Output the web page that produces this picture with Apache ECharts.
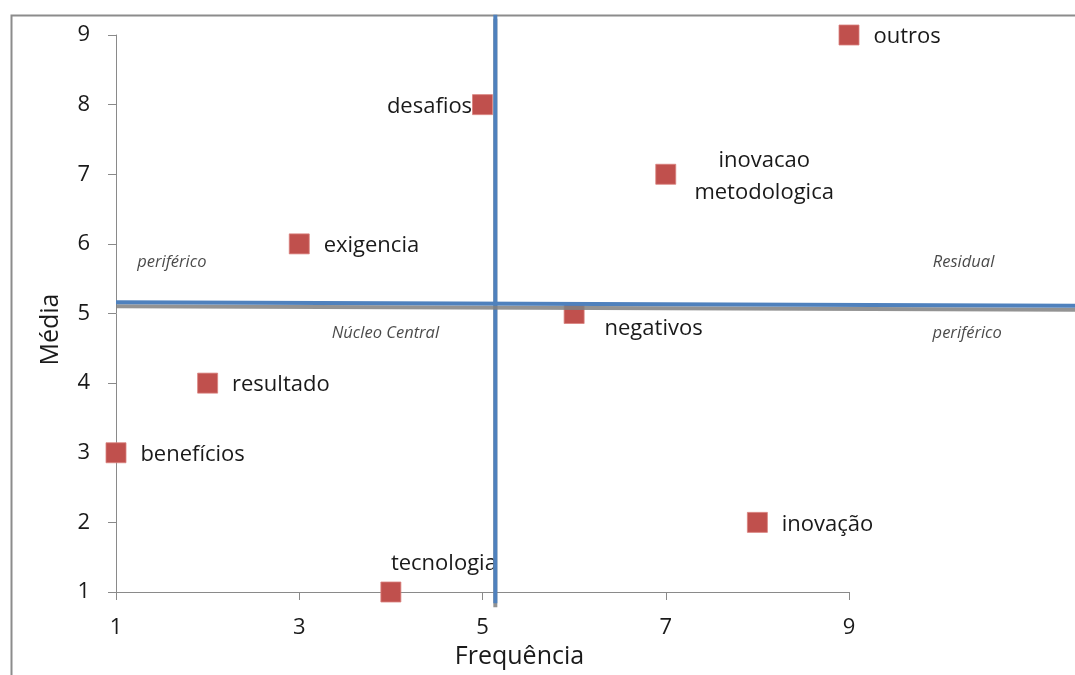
<!DOCTYPE html>
<html>
<head>
<meta charset="utf-8">
<script src="https://cdn.jsdelivr.net/npm/echarts@6/dist/echarts.min.js"></script>
<style>
html,body{margin:0;padding:0;background:#fff;}
#chart{width:1075px;height:675px;}
</style>
</head>
<body>
<div id="chart"></div>
<script>
// ---- data ----
const termNames = ['desafios','outros','inovacao\nmetodologica','exigencia','negativos','resultado','benefícios','inovação','tecnologia'];
const frequencia = [5, 9, 7, 3, 6, 2, 1, 8, 4];
const media      = [8, 9, 7, 6, 5, 4, 3, 2, 1];
const xTicks = [1, 3, 5, 7, 9];
const yTicks = [1, 2, 3, 4, 5, 6, 7, 8, 9];
// quadrant divider lines (data coordinates)
const vDivider = [[5.14, 0.84], [5.14, 9.29]];
const hDivider = [[1, 5.16], [11.466, 5.11]];
// quadrant notes
const noteTexts = ['periférico', 'Núcleo Central', 'Residual', 'periférico'];
const noteX = [1.61, 3.94, 10.25, 10.29];
const noteY = [5.74, 4.72, 5.74, 4.72];

// ---- label placement (style, not data) ----
const labelPlace = {
  'desafios': {position: 'left', distance: 0, offset: [0, 2]},
  'tecnologia': {position: 'top', offset: [53, 4], distance: 6},
  'inovacao\nmetodologica': {position: 'right', distance: 88, align: 'center', offset: [0, 2]},
  'negativos': {position: 'right', distance: 20, offset: [0, 15]}
};

const chart = echarts.init(document.getElementById('chart'));
const FONT = 'Open Sans';
const TXT = '#1a1a1a';

const pointData = termNames.map((n, i) => {
  const item = {name: n, value: [frequencia[i], media[i]]};
  if (labelPlace[n]) item.label = Object.assign({}, labelPlace[n]);
  return item;
});

const noteData = noteTexts.map((t, i) => ({name: t, value: [noteX[i], noteY[i]]}));

const option = {
  animation: false,
  backgroundColor: '#fff',
  textStyle: {fontFamily: FONT},
  grid: [
    {left: 116, right: 226, top: 35, bottom: 83, containLabel: false},
    {left: 116, right: 0, top: 35, bottom: 83, containLabel: false}
  ],
  graphic: [{
    type: 'rect', left: 9, top: 13, silent: true, z: -10,
    shape: {width: 1300, height: 900},
    style: {fill: 'none', stroke: '#8c8c8c', lineWidth: 2}
  }],
  xAxis: [{
    type: 'value', gridIndex: 0, min: 1, max: 9, interval: 2,
    name: 'Frequência', nameLocation: 'middle', nameGap: 52,
    nameTextStyle: {fontFamily: FONT, fontSize: 25, color: TXT, padding: [0, 0, 0, 74]},
    axisLine: {show: true, onZero: false, lineStyle: {color: '#8a8a8a', width: 1}},
    axisTick: {show: true, inside: false, length: 8, lineStyle: {color: '#8a8a8a'}},
    axisLabel: {fontFamily: FONT, fontSize: 22, color: TXT, margin: 25,
      formatter: v => xTicks.includes(v) ? String(v) : ''},
    splitLine: {show: false}
  }, {
    type: 'value', gridIndex: 1, min: 1, max: 11.466, show: false
  }],
  yAxis: [{
    type: 'value', gridIndex: 0, min: 1, max: 9, interval: 1,
    name: 'Média', nameLocation: 'middle', nameGap: 53, nameRotate: 90,
    nameTextStyle: {fontFamily: FONT, fontSize: 25, color: TXT, padding: [0, 32, 0, 0]},
    axisLine: {show: true, onZero: false, lineStyle: {color: '#8a8a8a', width: 1}},
    axisTick: {show: true, inside: false, length: 8, lineStyle: {color: '#8a8a8a'}},
    axisLabel: {fontFamily: FONT, fontSize: 22, color: TXT, margin: 26,
      formatter: v => yTicks.includes(v) ? String(v) : ''},
    splitLine: {show: false}
  }, {
    type: 'value', gridIndex: 1, min: 1, max: 9, show: false
  }],
  series: [
    {
      type: 'scatter', name: 'termos', clip: false, z: 2,
      xAxisIndex: 0, yAxisIndex: 0,
      symbol: 'rect', symbolSize: 20,
      itemStyle: {color: '#C0504D', opacity: 1, borderColor: '#d9817e', borderWidth: 0.8},
      label: {show: true, position: 'right', distance: 14, offset: [0, 2], formatter: '{b}',
        fontFamily: FONT, fontSize: 22, color: TXT, lineHeight: 32},
      data: pointData
    },
    {
      type: 'line', name: 'vdiv', clip: false, z: 5, symbol: 'none',
      xAxisIndex: 0, yAxisIndex: 0,
      lineStyle: {color: '#4F81BD', width: 4, shadowColor: 'rgba(128,128,128,0.85)', shadowOffsetY: 4, shadowBlur: 0},
      data: vDivider
    },
    {
      type: 'line', name: 'hdiv', clip: false, z: 5, symbol: 'none',
      xAxisIndex: 1, yAxisIndex: 1,
      lineStyle: {color: '#4F81BD', width: 4, shadowColor: 'rgba(128,128,128,0.85)', shadowOffsetY: 4, shadowBlur: 0},
      data: hDivider
    },
    {
      type: 'scatter', name: 'notes', clip: false, z: 6, symbolSize: 0,
      xAxisIndex: 1, yAxisIndex: 1,
      label: {show: true, position: 'inside', formatter: '{b}',
        fontFamily: FONT, fontSize: 16.5, fontStyle: 'italic', color: TXT},
      data: noteData
    }
  ]
};
chart.setOption(option);
</script>
</body>
</html>
